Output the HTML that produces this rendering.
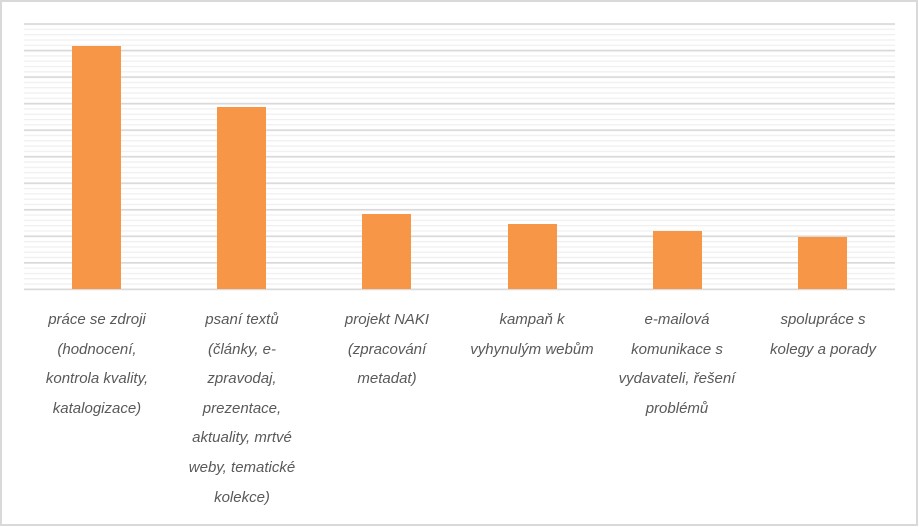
<!DOCTYPE html>
<html><head><meta charset="utf-8"><style>
body{margin:0;background:#fff;}
.wrap{position:relative;width:919px;height:527px;overflow:hidden;}
.lab{position:absolute;width:150px;text-align:center;font-family:"Liberation Sans",sans-serif;font-style:italic;font-size:15px;line-height:29.6px;color:#595959;top:305px;}
</style></head><body><div class="wrap">
<svg width="919" height="527" style="position:absolute;left:0;top:0">
<defs>
<pattern id="mn" patternUnits="userSpaceOnUse" x="0" y="23.4" width="10" height="5.306">
<rect x="0" y="0" width="10" height="1.3" fill="#f0f0f0"/>
</pattern>
<pattern id="mj" patternUnits="userSpaceOnUse" x="0" y="23.2" width="10" height="26.53">
<rect x="0" y="0" width="10" height="1.7" fill="#d9d9d9"/>
</pattern>
</defs>
<rect x="1" y="1" width="916" height="524" fill="#fff" stroke="#d9d9d9" stroke-width="2"/>
<rect x="24" y="23" width="871" height="268" fill="url(#mn)"/>
<rect x="24" y="23" width="871" height="268" fill="url(#mj)"/>
<rect x="72" y="46" width="49" height="243" fill="#F79646"/>
<rect x="217" y="107" width="49" height="182" fill="#F79646"/>
<rect x="362" y="214" width="49" height="75" fill="#F79646"/>
<rect x="508" y="224" width="49" height="65" fill="#F79646"/>
<rect x="653" y="231" width="49" height="58" fill="#F79646"/>
<rect x="798" y="237" width="49" height="52" fill="#F79646"/>
</svg>
<div class="lab" style="left:22px">práce se zdroji<br>(hodnocení,<br>kontrola kvality,<br>katalogizace)</div>
<div class="lab" style="left:167px">psaní textů<br>(články, e-<br>zpravodaj,<br>prezentace,<br>aktuality, mrtvé<br>weby, tematické<br>kolekce)</div>
<div class="lab" style="left:312px">projekt NAKI<br>(zpracování<br>metadat)</div>
<div class="lab" style="left:457px">kampaň k<br>vyhynulým webům</div>
<div class="lab" style="left:602px">e-mailová<br>komunikace s<br>vydavateli, řešení<br>problémů</div>
<div class="lab" style="left:748px">spolupráce s<br>kolegy a porady</div>
</div></body></html>
